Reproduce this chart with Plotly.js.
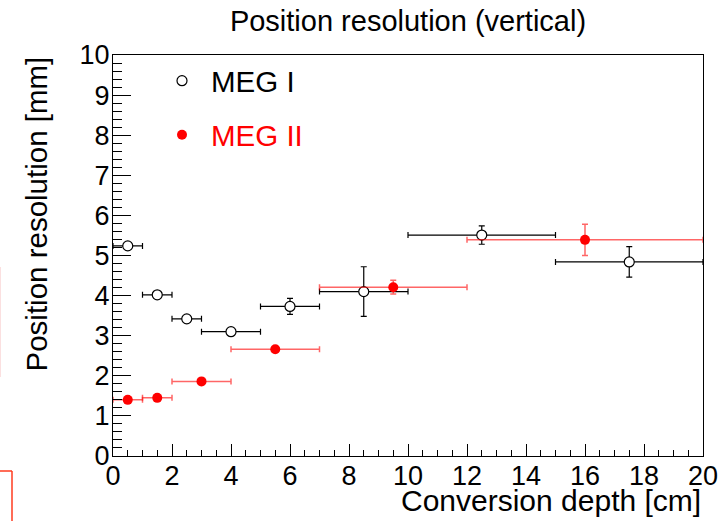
<!DOCTYPE html>
<html>
<head>
<meta charset="utf-8">
<script src="https://cdn.plot.ly/plotly-3.0.1.min.js"></script>
<style>html,body{margin:0;padding:0;background:#fff;}#chart{width:727px;height:521px;}</style>
</head>
<body>
<div id="chart"></div>
<script>
// MEG I (open circles)
const meg1Depth = [0.5, 1.5, 2.5, 4, 6, 8.5, 12.5, 17.5];
const meg1DepthHalfWidth = [0.5, 0.5, 0.5, 1, 1, 1.5, 2.5, 2.5];
const meg1Resolution = [5.24, 4.02, 3.42, 3.10, 3.73, 4.10, 5.51, 4.84];
const meg1ResolutionErr = [0.06, 0.06, 0.06, 0.06, 0.20, 0.62, 0.23, 0.38];

// MEG II (filled red circles)
const meg2Depth = [0.5, 1.5, 3, 5.5, 9.5, 16];
const meg2DepthHalfWidth = [0.5, 0.5, 1, 1.5, 2.5, 4];
const meg2Resolution = [1.40, 1.45, 1.86, 2.66, 4.21, 5.39];
const meg2ResolutionErr = [0.05, 0.05, 0.05, 0.05, 0.17, 0.39];

const seriesNames = ["MEG I", "MEG II"];
const chartTitle = "Position resolution (vertical)";
const xTitle = "Conversion depth [cm]";
const yTitle = "Position resolution [mm]";

const FONT = "Liberation Sans, Arial, Helvetica, sans-serif";

const traces = [
  {
    type: "scatter", mode: "markers", name: seriesNames[0],
    x: meg1Depth, y: meg1Resolution,
    error_x: {type: "data", array: meg1DepthHalfWidth, color: "#000", thickness: 1.2, width: 3},
    error_y: {type: "data", array: meg1ResolutionErr, color: "#000", thickness: 1.2, width: 3},
    marker: {symbol: "circle", size: 10, color: "#fff", line: {color: "#000", width: 1.2}},
    legend: "legend", cliponaxis: false
  },
  {
    type: "scatter", mode: "markers", name: seriesNames[1],
    x: meg2Depth, y: meg2Resolution,
    error_x: {type: "data", array: meg2DepthHalfWidth, color: "rgba(255,0,0,0.6)", thickness: 1.5, width: 3},
    error_y: {type: "data", array: meg2ResolutionErr, color: "rgba(255,0,0,0.6)", thickness: 1.5, width: 3},
    marker: {symbol: "circle", size: 10, color: "#ff0000", line: {width: 0}},
    legend: "legend2", cliponaxis: false
  }
];

const L = 113, R = 24, T = 55, B = 65;
const PW = 727 - L - R, PH = 521 - T - B;
const px = v => (v - L) / PW;
const py = v => (521 - B - v) / PH;

const layout = {
  width: 727, height: 521,
  margin: {l: L, r: R, t: T, b: B, pad: 0},
  paper_bgcolor: "#fff", plot_bgcolor: "#fff",
  font: {family: FONT, color: "#000", size: 27},
  title: {text: chartTitle, font: {family: FONT, size: 29, color: "#000"},
          x: 0.5, xref: "paper", xanchor: "center", y: 1 - 21/521, yref: "container", yanchor: "middle"},
  xaxis: {
    range: [0, 20], dtick: 2, tick0: 0, ticks: "inside", ticklen: 12, tickwidth: 1, tickcolor: "#000",
    minor: {dtick: 0.5, ticks: "inside", ticklen: 6, tickwidth: 1, tickcolor: "#000", showgrid: false},
    showline: true, linecolor: "#000", linewidth: 1, mirror: true, ticklabelstandoff: -4,
    showgrid: false, zeroline: false, tickfont: {family: FONT, size: 27, color: "#000"}, fixedrange: true
  },
  yaxis: {
    range: [0, 10], dtick: 1, tick0: 0, ticks: "inside", ticklen: 18, tickwidth: 1, tickcolor: "#000",
    minor: {dtick: 0.2, ticks: "inside", ticklen: 9, tickwidth: 1, tickcolor: "#000", showgrid: false},
    showline: true, linecolor: "#000", linewidth: 1, mirror: true, ticklabelstandoff: -3,
    showgrid: false, zeroline: false, tickfont: {family: FONT, size: 27, color: "#000"}, fixedrange: true
  },
  showlegend: true,
  legend: {x: px(153), y: py(81), xanchor: "left", yanchor: "middle", bgcolor: "rgba(0,0,0,0)",
           borderwidth: 0, itemwidth: 48, font: {family: FONT, size: 29.5, color: "#000"}},
  legend2: {x: px(153), y: py(135), xanchor: "left", yanchor: "middle", bgcolor: "rgba(0,0,0,0)",
            borderwidth: 0, itemwidth: 48, font: {family: FONT, size: 29.5, color: "#ff0000"}},
  annotations: [
    {text: xTitle, xref: "paper", yref: "paper", x: 1, y: py(500), xanchor: "right", yanchor: "middle",
     showarrow: false, font: {family: FONT, size: 30, color: "#000"}},
    {text: yTitle, xref: "paper", yref: "paper", x: px(36), y: 1, xanchor: "center", yanchor: "top",
     textangle: -90, showarrow: false, font: {family: FONT, size: 29.5, color: "#000"}}
  ],
  shapes: [
    {type: "line", xref: "paper", yref: "paper", x0: px(0), y0: py(471), x1: px(12), y1: py(471),
     line: {color: "#ff3b1f", width: 1.5}},
    {type: "line", xref: "paper", yref: "paper", x0: px(12), y0: py(471), x1: px(12), y1: py(521),
     line: {color: "#ff3b1f", width: 1.5}},
    {type: "line", xref: "paper", yref: "paper", x0: px(0.5), y0: py(267), x1: px(0.5), y1: py(377),
     line: {color: "#fbe0e0", width: 1}}
  ]
};

Plotly.newPlot("chart", traces, layout, {staticPlot: true, displayModeBar: false});
</script>
</body>
</html>
